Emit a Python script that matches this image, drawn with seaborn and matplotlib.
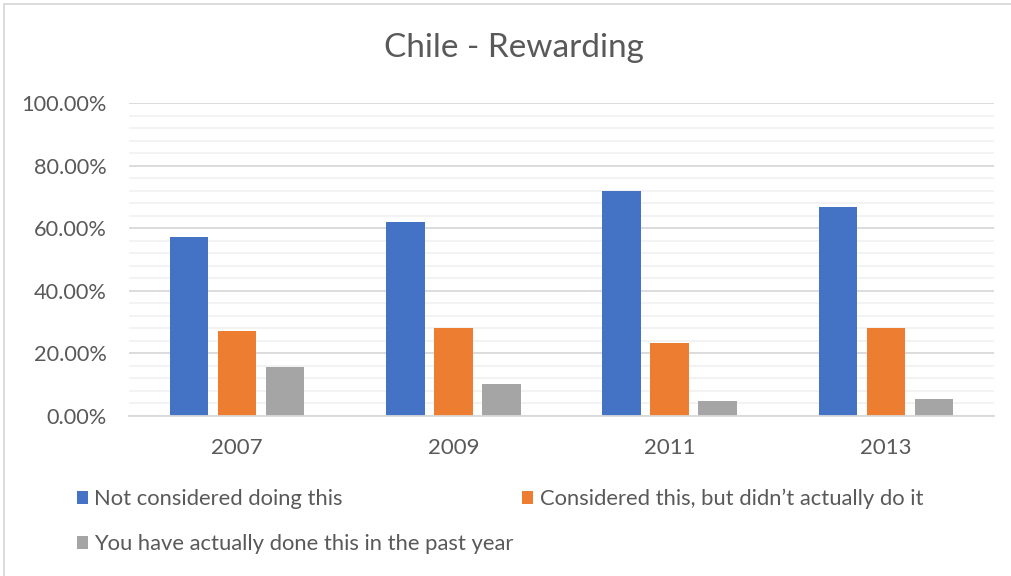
import matplotlib
matplotlib.use("Agg")
import matplotlib.pyplot as plt
from matplotlib.lines import Line2D
from matplotlib.patches import Patch
from matplotlib.ticker import MultipleLocator, PercentFormatter
import pandas as pd
import seaborn as sns

# Survey shares per year (fractions)
years = ["2007", "2009", "2011", "2013"]
series = [
    "Not considered doing this",
    "Considered this, but didn\u2019t actually do it",
    "You have actually done this in the past year",
]
not_considered = [0.571, 0.618, 0.719, 0.668]
considered = [0.270, 0.282, 0.233, 0.280]
done = [0.157, 0.100, 0.046, 0.053]
colors = ["#4472C4", "#ED7D31", "#A5A5A5"]

rows = []
for name, vals in zip(series, [not_considered, considered, done]):
    for y, v in zip(years, vals):
        rows.append({"Year": y, "Response": name, "Share": v})
df = pd.DataFrame(rows)

sns.set_theme(style="white")
font = "Lato"
plt.rcParams["font.family"] = [font, "DejaVu Sans"]
text_color = "#595959"

fig = plt.figure(figsize=(10.11, 5.76), dpi=100)
ax = fig.add_axes([129 / 1011, 1 - 415.7 / 576, (994 - 129) / 1011, (415.7 - 103) / 576])

sns.barplot(
    data=df, x="Year", y="Share", hue="Response", order=years, hue_order=series,
    palette=colors, width=0.667, gap=0.2, ax=ax, legend=False, saturation=1,
    edgecolor="none", linewidth=0,
)

ax.set_ylim(0, 1.0)
ax.set_xlim(-0.5, len(years) - 0.5)
ax.yaxis.set_major_locator(MultipleLocator(0.2))
ax.yaxis.set_minor_locator(MultipleLocator(0.04))
ax.yaxis.set_major_formatter(PercentFormatter(1.0, decimals=2))
ax.grid(axis="y", which="major", color="#D9D9D9", linewidth=1.3, zorder=0)
ax.grid(axis="y", which="minor", color="#F2F2F2", linewidth=1.3, zorder=0)
ax.set_axisbelow(True)
for s in ["left", "right", "top"]:
    ax.spines[s].set_visible(False)
ax.spines["bottom"].set_color("#D9D9D9")
ax.spines["bottom"].set_linewidth(1.3)
ax.tick_params(axis="both", which="both", length=0, colors=text_color)
ax.tick_params(axis="y", pad=16, labelsize=15.7)
ax.tick_params(axis="x", pad=16, labelsize=16)
ax.set_xlabel("")
ax.set_ylabel("")

fig.text(514 / 1011, 1 - 48 / 576, "Chile - Rewarding", ha="center", va="center",
         fontsize=24, color=text_color)

handles = [Patch(facecolor=c, edgecolor="none") for c in colors]
order = [0, 2, 1]
leg = fig.legend(
    [handles[i] for i in order], [series[i] for i in order],
    ncol=2, loc="upper left", bbox_to_anchor=(57 / 1011, 1 - 469 / 576),
    frameon=False, fontsize=15.8, labelcolor=text_color, handlelength=0.5,
    handleheight=0.5, handletextpad=0.3, columnspacing=0.4, labelspacing=1.15,
)

# outer chart frame (top and left edges)
fig.add_artist(Line2D([4 / 1011, 1], [1 - 4 / 576, 1 - 4 / 576], color="#D9D9D9", lw=1.3))
fig.add_artist(Line2D([4 / 1011, 4 / 1011], [0, 1 - 4 / 576], color="#D9D9D9", lw=1.3))

fig.savefig("out.png", dpi=100)
